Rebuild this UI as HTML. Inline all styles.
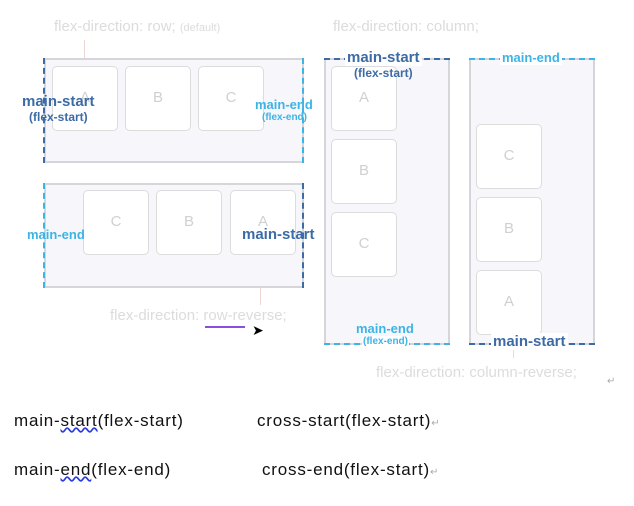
<!DOCTYPE html>
<html><head><meta charset="utf-8"><style>
body{margin:0;width:634px;height:506px;background:#fff;position:relative;overflow:hidden;font-family:"Liberation Sans",sans-serif}
.a{position:absolute;white-space:nowrap}
.box{position:absolute;background:#f7f6fa;border:2px solid #d6d6da;box-sizing:border-box}
.it{position:absolute;width:66px;height:65px;background:#fff;border:1.5px solid #dcdcdc;border-radius:5px;box-sizing:border-box;color:#d0d0d0;font-size:15px;text-align:center;line-height:62px}
.g{color:#dcdcdc;font-size:15px}
.db{color:#3d6ba6;font-weight:bold}
.lb{color:#3cb4e6;font-weight:bold}
.vd{position:absolute;width:0;border-left:2px dashed}
.hd{position:absolute;height:0;border-top:2px dashed}
.t{font-size:17px;letter-spacing:0.8px;color:#111}
.r{color:#aaa;font-size:10px;letter-spacing:0}
</style></head><body>
<div class="a g" style="left:54px;top:18px">flex-direction: row; <span style="font-size:11px">(default)</span></div>
<div class="a g" style="left:333px;top:18px">flex-direction: column;</div>
<div class="a g" style="left:110px;top:307px">flex-direction: row-reverse;</div>
<div class="a g" style="left:376px;top:364px">flex-direction: column-reverse;</div>
<div class="a" style="left:84px;top:40px;width:1px;height:18px;background:#f1d6d6"></div>
<div class="a" style="left:260px;top:287px;width:1px;height:18px;background:#f1d6d6"></div>
<div class="a" style="left:513px;top:344px;width:1px;height:14px;background:#f1d6d6"></div>
<div class="a" style="left:205px;top:326px;width:40px;height:2px;background:#8a4fe0"></div>
<div class="a" style="left:252px;top:322px;font-size:14px">➤</div>

<div class="box" style="left:44px;top:58px;width:260px;height:105px"></div>
<div class="it" style="left:52px;top:66px">A</div><div class="it" style="left:125px;top:66px">B</div><div class="it" style="left:198px;top:66px">C</div>
<div class="vd" style="left:43px;top:58px;height:105px;border-color:#3d6ba6"></div>
<div class="vd" style="left:302px;top:58px;height:105px;border-color:#3cb4e6"></div>
<div class="a db" style="left:22px;top:93px;font-size:15px">main-start</div>
<div class="a db" style="left:29px;top:110px;font-size:12px">(flex-start)</div>
<div class="a lb" style="left:255px;top:97px;font-size:13px">main-end</div>
<div class="a lb" style="left:262px;top:112px;font-size:10px">(flex-end)</div>

<div class="box" style="left:44px;top:183px;width:260px;height:105px"></div>
<div class="it" style="left:83px;top:190px">C</div><div class="it" style="left:156px;top:190px">B</div><div class="it" style="left:230px;top:190px">A</div>
<div class="vd" style="left:43px;top:183px;height:105px;border-color:#3cb4e6"></div>
<div class="vd" style="left:302px;top:183px;height:105px;border-color:#3d6ba6"></div>
<div class="a lb" style="left:27px;top:227px;font-size:13px">main-end</div>
<div class="a db" style="left:242px;top:226px;font-size:15px">main-start</div>

<div class="box" style="left:324px;top:58px;width:126px;height:287px"></div>
<div class="it" style="left:331px;top:66px">A</div><div class="it" style="left:331px;top:139px">B</div><div class="it" style="left:331px;top:212px">C</div>
<div class="hd" style="left:324px;top:58px;width:126px;border-color:#3d6ba6"></div>
<div class="hd" style="left:324px;top:343px;width:126px;border-color:#3cb4e6"></div>
<div class="a db" style="left:345px;top:49px;font-size:15px;background:#fff;padding:0 2px">main-start</div>
<div class="a db" style="left:354px;top:66px;font-size:12px">(flex-start)</div>
<div class="a lb" style="left:356px;top:321px;font-size:13px">main-end</div>
<div class="a lb" style="left:362px;top:336px;font-size:10px;background:#fff;padding:0 1px">(flex-end)</div>

<div class="box" style="left:469px;top:58px;width:126px;height:287px"></div>
<div class="it" style="left:476px;top:124px">C</div><div class="it" style="left:476px;top:197px">B</div><div class="it" style="left:476px;top:270px">A</div>
<div class="hd" style="left:469px;top:58px;width:126px;border-color:#3cb4e6"></div>
<div class="hd" style="left:469px;top:343px;width:126px;border-color:#3d6ba6"></div>
<div class="a lb" style="left:500px;top:50px;font-size:13px;background:#fff;padding:0 2px">main-end</div>
<div class="a db" style="left:491px;top:333px;font-size:15px;background:#fff;padding:0 2px">main-start</div>
<div class="a r" style="left:607px;top:376px">↵</div>

<div class="a t" style="left:14px;top:411px">main-<span style="text-decoration:underline wavy #2a3de0">start</span>(flex-start)</div>
<div class="a t" style="left:257px;top:411px">cross-start(flex-start)<span class="r">↵</span></div>
<div class="a t" style="left:14px;top:460px">main-<span style="text-decoration:underline wavy #2a3de0">end</span>(flex-end)</div>
<div class="a t" style="left:262px;top:460px">cross-end(flex-start)<span class="r">↵</span></div>
</body></html>
